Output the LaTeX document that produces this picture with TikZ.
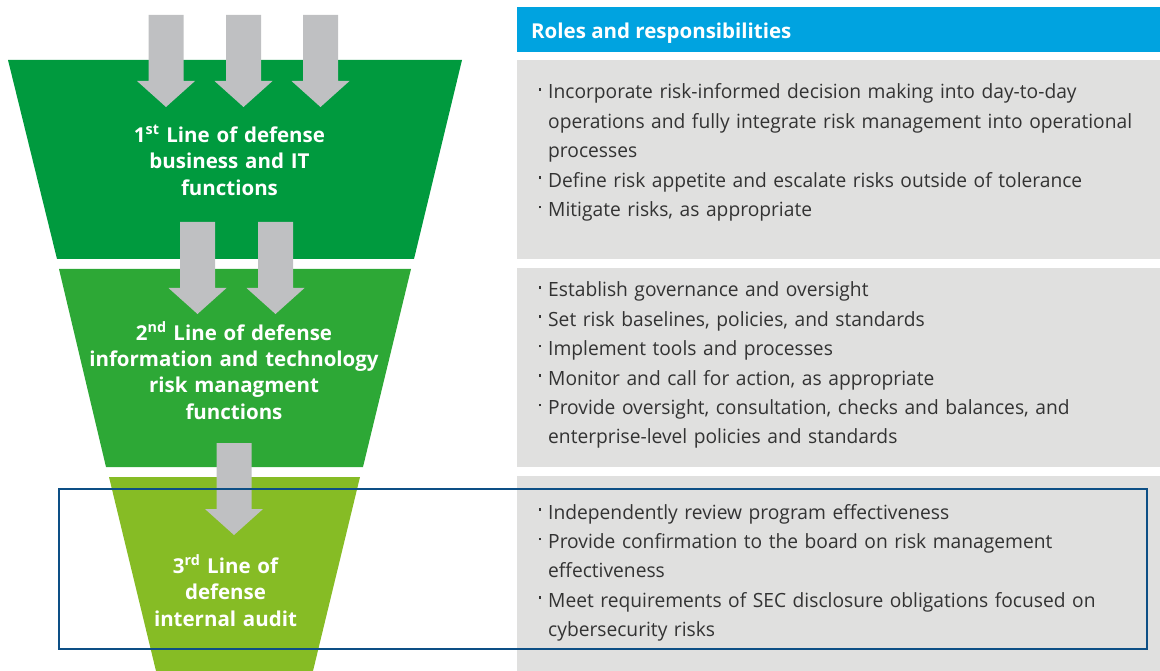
\documentclass[tikz,border=0pt]{standalone}
\usepackage{fontspec}
\setmainfont{Open Sans}
\newfontfamily\bodyfont[FakeStretch=0.98]{Open Sans}
\definecolor{gA}{HTML}{009A3E}
\definecolor{gB}{HTML}{2DA836}
\definecolor{gC}{HTML}{86BC25}
\definecolor{arrowgray}{HTML}{BFC0C2}
\definecolor{boxgray}{HTML}{E0E0DF}
\definecolor{headblue}{HTML}{00A3E0}
\definecolor{frameblue}{HTML}{0D4F85}
\definecolor{txtgray}{HTML}{333333}
\newcommand{\rbul}{\leavevmode\llap{\raisebox{8.3pt}{\rule{2.6pt}{2.6pt}}\hspace{7pt}}}
\tikzset{
  blockarrow/.pic={\fill[arrowgray] (-17.5,0) -- (17.5,0) -- (17.5,66) -- (29,66) -- (0,92) -- (-29,66) -- (-17.5,66) -- cycle;},
  funnellabel/.style={text=white, font=\fontsize{20.5}{26.5}\selectfont\bfseries, align=center, anchor=base, inner sep=0pt, text width=330pt},
  bodytext/.style={text=txtgray, font=\bodyfont\fontsize{19.6}{29.4}\selectfont, align=left, anchor=base west, inner sep=0pt, text width=600pt},
}
\begin{document}
\begin{tikzpicture}[x=1pt,y=-1pt]
\useasboundingbox (0,0) rectangle (1160,671);
% funnel
\fill[gA] (8,60) -- (462,60) -- (414,259) -- (57,259) -- cycle;
\fill[gB] (59,269) -- (411,269) -- (363,467) -- (106,467) -- cycle;
\fill[gC] (109,477) -- (360,477) -- (313,671) -- (156,671) -- cycle;
% right side boxes
\fill[headblue] (517,7) rectangle (1160,52);
\fill[boxgray] (517,60) rectangle (1160,259);
\fill[boxgray] (517,268) rectangle (1160,467);
\fill[boxgray] (517,476) rectangle (1160,671);
% arrows
\pic at (166,15) {blockarrow};
\pic at (243.5,15) {blockarrow};
\pic at (320.5,15) {blockarrow};
\pic at (197.5,222) {blockarrow};
\pic at (275.5,222) {blockarrow};
\pic at (234,443) {blockarrow};
% funnel labels
\node[funnellabel] (l1) at (229.5,142.5) {1\textsuperscript{st} Line of defense\\business and IT\\functions};
\node[funnellabel] (l2) at (234,340) {2\textsuperscript{nd} Line of defense\\information and technology\\risk managment\\functions};
\node[funnellabel] (l3) at (225.5,573) {3\textsuperscript{rd} Line of\\defense\\internal audit};
% header
\node[text=white, font=\fontsize{20.5}{24}\selectfont\bfseries, anchor=base west, inner sep=0pt] (head) at (531,38.3) {Roles and responsibilities};
% body texts
\node[bodytext] (r1) at (548,99) {\rbul Incorporate risk-informed decision making into day-to-day\\
operations and fully integrate risk management into operational\\
processes\\
\rbul Define risk appetite and escalate risks outside of tolerance\\
\rbul Mitigate risks, as appropriate};
\node[bodytext] (r2) at (548,297) {\rbul Establish governance and oversight\\
\rbul Set risk baselines, policies, and standards\\
\rbul Implement tools and processes\\
\rbul Monitor and call for action, as appropriate\\
\rbul Provide oversight, consultation, checks and balances, and\\
enterprise-level policies and standards};
\node[bodytext] (r3) at (548,519) {\rbul Independently review program effectiveness\\
\rbul Provide confirmation to the board on risk management\\
effectiveness\\
\rbul Meet requirements of SEC disclosure obligations focused on\\
cybersecurity risks};
% highlight frame
\draw[frameblue, line width=2.5pt] (59,489) rectangle (1147,649);
\end{tikzpicture}
\end{document}
